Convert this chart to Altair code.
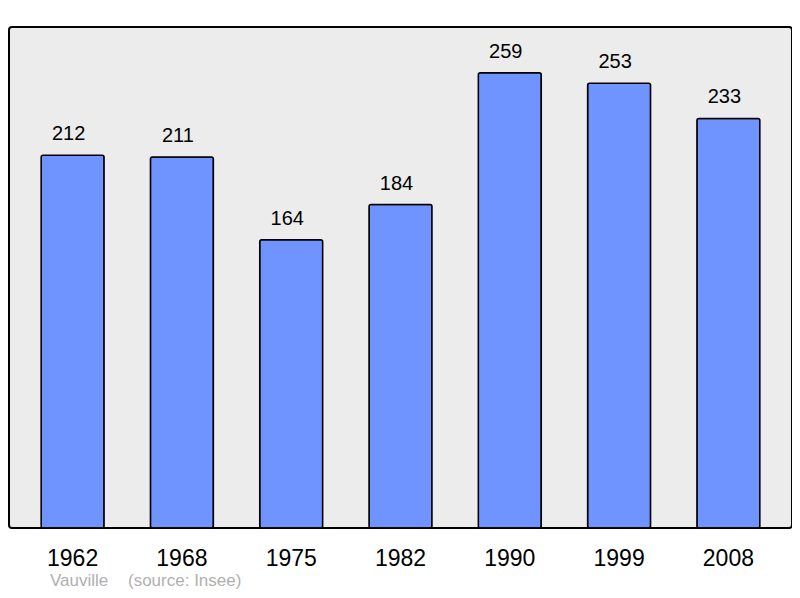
import pandas as pd
import altair as alt

# data
years = ['1962', '1968', '1975', '1982', '1990', '1999', '2008']
population = [212, 211, 164, 184, 259, 253, 233]
town = 'Vauville'
source = '(source: Insee)'

df = pd.DataFrame({'year': years, 'pop': population})

W, H = 783, 501
FONT = 'Liberation Sans'

x = alt.X('year:N', sort=years, title=None,
          scale=alt.Scale(paddingInner=0.424, paddingOuter=0.294),
          axis=alt.Axis(labelAngle=0, labelFontSize=23, labelFont=FONT, labelColor='black',
                        labelBaseline='alphabetic', labelPadding=37, ticks=False, tickSize=0,
                        domain=False, grid=False))
y = alt.Y('pop:Q', title=None, scale=alt.Scale(domain=[0, 285], nice=False, zero=True), axis=None)

bars = alt.Chart(df).mark_bar(color='#7094ff', stroke='black', strokeWidth=1.5,
                              cornerRadius=2).encode(x=x, y=y)

labels = alt.Chart(df).mark_text(baseline='alphabetic', dy=-15, dx=-4, fontSize=20, font=FONT,
                                 color='black').encode(x=x, y=y, text='pop:Q')


# credit line under the axis: town name, then the source
def credit(txt, left):
    return alt.Chart(pd.DataFrame({'t': [txt]})).mark_text(
        align='left', baseline='alphabetic', fontSize=17, font=FONT, color='#b0b0b0'
    ).encode(x=alt.value(left), y=alt.value(H + 58), text='t:N')


chart = (
    alt.layer(bars, labels, credit(town, 41), credit(source, 119))
    .properties(width=W, height=H, autosize=alt.AutoSizeParams(type='none'),
                padding={'left': 1, 'top': 19, 'right': 0, 'bottom': 62})
    .configure_view(fill='#ececec', stroke='black', strokeWidth=2, cornerRadius=3)
)

chart.save('out.html', embed_options={'renderer': 'svg', 'actions': False})
